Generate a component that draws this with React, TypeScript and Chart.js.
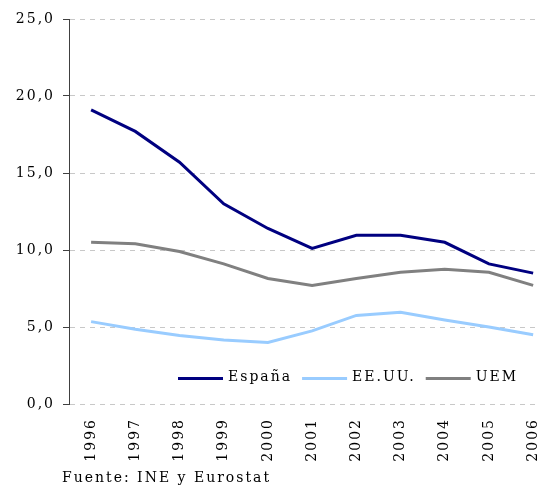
import React, { useEffect, useRef } from 'react';
import { Chart, registerables } from 'chart.js';

Chart.register(...registerables);

const years = [1996, 1997, 1998, 1999, 2000, 2001, 2002, 2003, 2004, 2005, 2006];
const espana = [19.1, 17.7, 15.7, 13.0, 11.4, 10.1, 10.95, 10.95, 10.5, 9.1, 8.5];
const eeuu = [5.35, 4.85, 4.45, 4.15, 4.0, 4.75, 5.75, 5.95, 5.45, 5.0, 4.5];
const uem = [10.5, 10.4, 9.9, 9.1, 8.15, 7.7, 8.15, 8.55, 8.75, 8.55, 7.7];
const yTicks = [0, 5, 10, 15, 20, 25];
const seriesNames = ['España', 'EE.UU.', 'UEM'];
const seriesColors = ['#000080', '#99ccff', '#808080'];
const sourceText = 'Fuente: INE y Eurostat';

const FONT_FAMILY = "'DejaVu Serif', serif";
const FONT_SIZE = 14;
const SPACING = '2px';

const spacingPlugin = {
  id: 'spacing',
  beforeLayout(chart: any) {
    chart.ctx.letterSpacing = SPACING;
  },
  beforeDraw(chart: any) {
    chart.ctx.letterSpacing = SPACING;
  },
};

const legendPlugin = {
  id: 'innerLegend',
  afterDraw(chart: any) {
    const ctx = chart.ctx;
    const area = chart.chartArea;
    ctx.save();
    ctx.letterSpacing = SPACING;
    ctx.font = `${FONT_SIZE}px ${FONT_FAMILY}`;
    ctx.textBaseline = 'middle';
    ctx.textAlign = 'left';
    let x = area.left + 109;
    const y = area.bottom - 27;
    chart.data.datasets.forEach((ds: any) => {
      ctx.strokeStyle = ds.borderColor;
      ctx.lineWidth = 3;
      ctx.beginPath();
      ctx.moveTo(x, y + 1.5);
      ctx.lineTo(x + 45, y + 1.5);
      ctx.stroke();
      x += 50;
      ctx.fillStyle = '#000';
      ctx.fillText(ds.label, x, y);
      x += ctx.measureText(ds.label).width + 10;
    });
    ctx.restore();
  },
};

const sourcePlugin = {
  id: 'source',
  afterDraw(chart: any) {
    const ctx = chart.ctx;
    ctx.save();
    ctx.letterSpacing = SPACING;
    ctx.font = `${FONT_SIZE}px ${FONT_FAMILY}`;
    ctx.fillStyle = '#000';
    ctx.textAlign = 'left';
    ctx.textBaseline = 'alphabetic';
    ctx.fillText(sourceText, 62, 482);
    ctx.restore();
  },
};

export default function App() {
  const ref = useRef<HTMLCanvasElement>(null);
  useEffect(() => {
    if (!ref.current) return;
    const seriesData = [espana, eeuu, uem];
    const chart = new Chart(ref.current, {
      type: 'line',
      data: {
        labels: years,
        datasets: seriesNames.map((name, i) => ({
          label: name,
          data: seriesData[i],
          borderColor: seriesColors[i],
          backgroundColor: seriesColors[i],
          borderWidth: 3,
          pointRadius: 0,
          tension: 0,
          fill: false,
        })),
      },
      options: {
        responsive: false,
        animation: false,
        layout: { padding: { top: 19, right: 6, bottom: 0, left: 0 } },
        font: { family: FONT_FAMILY, size: FONT_SIZE },
        color: '#000',
        plugins: {
          legend: { display: false },
          tooltip: { enabled: false },
        },
        scales: {
          x: {
            type: 'linear',
            min: 1995.5,
            max: 2006.11,
            grid: { display: false, drawTicks: false },
            border: { display: false },
            afterBuildTicks(scale: any) {
              scale.ticks = years.map((v) => ({ value: v }));
            },
            afterFit(scale: any) {
              scale.height = 84;
              scale.paddingLeft = 0;
              scale.paddingRight = 0;
            },
            ticks: {
              minRotation: 90,
              maxRotation: 90,
              autoSkip: false,
              padding: 14,
              color: '#000',
              font: { family: FONT_FAMILY, size: FONT_SIZE },
              callback: (v: any) => String(v),
            },
          },
          y: {
            min: 0,
            max: 25,
            afterBuildTicks(scale: any) {
              scale.ticks = yTicks.map((v) => ({ value: v }));
            },
            afterFit(scale: any) {
              scale.width = 69;
              scale.paddingTop = 0;
              scale.paddingBottom = 0;
            },
            grid: {
              color: '#c8c8c8',
              tickColor: '#404040',
              tickLength: 6,
              lineWidth: 1,
            },
            border: { display: true, color: '#404040', width: 1, dash: [5, 5] },
            ticks: {
              padding: 8,
              color: '#000',
              font: { family: FONT_FAMILY, size: FONT_SIZE },
              callback: (v: any) => Number(v).toFixed(1).replace('.', ','),
            },
          },
        },
      },
      plugins: [spacingPlugin, legendPlugin, sourcePlugin],
    } as any);
    return () => chart.destroy();
  }, []);
  return (
    <canvas
      ref={ref}
      width={544}
      height={488}
      style={{ position: 'absolute', left: 0, top: 0, display: 'block' }}
    />
  );
}
